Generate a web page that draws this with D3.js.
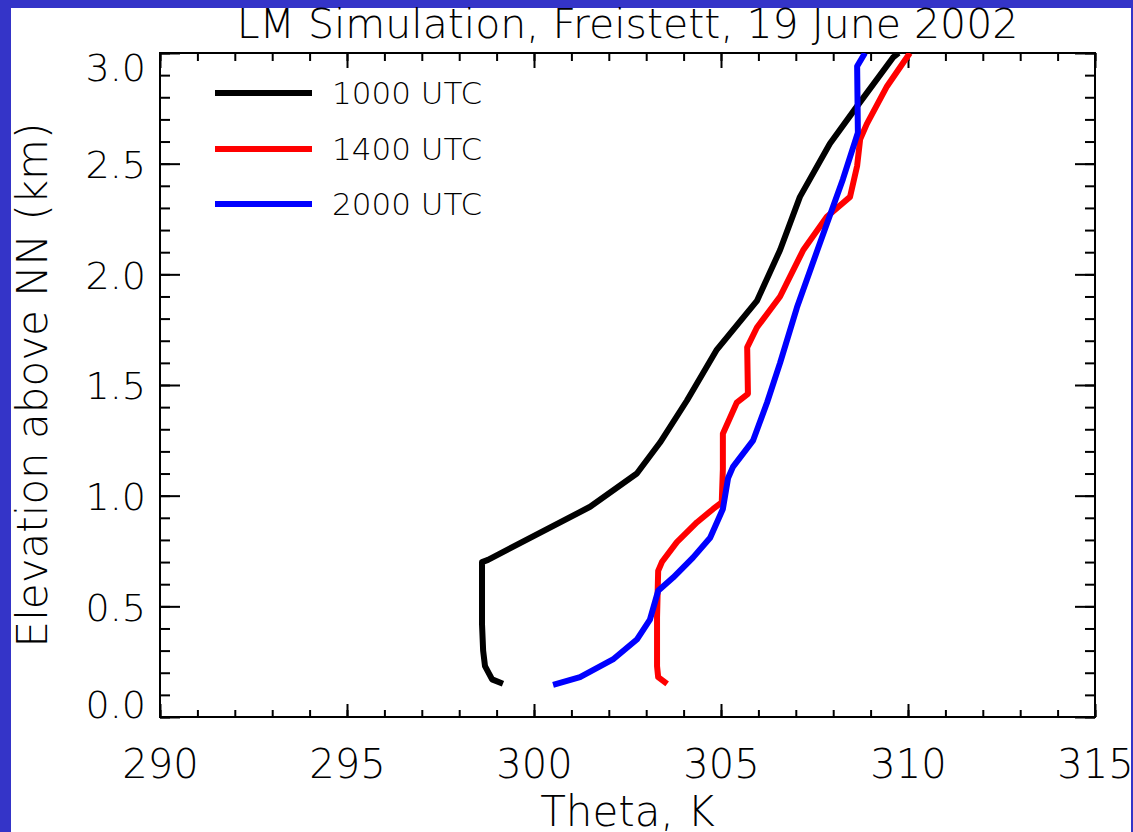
<!DOCTYPE html>
<html>
<head>
<meta charset="utf-8">
<script src="https://cdn.jsdelivr.net/npm/d3@7"></script>
<style>
body { margin: 0; background: #ffffff; }
svg { display: block; }
text { font-family: "DejaVu Sans", sans-serif; font-weight: 200; fill: #000; }
</style>
</head>
<body>
<svg width="1133" height="832"></svg>
<script>
// values (theta in K, elevation in km)
var series_names = ['1000 UTC', '1400 UTC', '2000 UTC'];
var series_colors = ['#000000', '#ff0000', '#0000ff'];

var theta_1000 = [299.17, 298.88, 298.69, 298.64, 298.61, 298.61, 298.77, 301.50, 302.75, 303.37, 304.09, 304.89, 305.96, 306.58, 307.11, 307.91, 308.64, 309.60, 309.75];
var elev_1000  = [0.15, 0.17, 0.23, 0.30, 0.42, 0.70, 0.71, 0.95, 1.10, 1.24, 1.43, 1.66, 1.88, 2.11, 2.35, 2.59, 2.76, 2.98, 3.0];

var theta_1400 = [303.56, 303.32, 303.29, 303.29, 303.32, 303.42, 303.82, 304.36, 304.79, 305.02, 305.05, 305.05, 305.42, 305.72, 305.70, 305.96, 306.58, 307.20, 307.83, 308.45, 308.64, 308.72, 308.90, 309.44, 310.05];
var elev_1400  = [0.15, 0.18, 0.23, 0.45, 0.66, 0.70, 0.79, 0.88, 0.94, 0.97, 1.12, 1.28, 1.42, 1.46, 1.67, 1.76, 1.90, 2.11, 2.26, 2.35, 2.49, 2.61, 2.68, 2.85, 3.0];

var theta_2000 = [300.51, 301.23, 302.11, 302.75, 303.10, 303.32, 303.72, 304.25, 304.71, 305.05, 305.19, 305.32, 305.86, 306.23, 306.58, 307.03, 307.60, 308.26, 308.66, 308.64, 308.85];
var elev_2000  = [0.145, 0.18, 0.26, 0.35, 0.44, 0.57, 0.63, 0.72, 0.81, 0.94, 1.08, 1.13, 1.25, 1.42, 1.60, 1.85, 2.12, 2.43, 2.64, 2.94, 3.0];

var x_major = [290, 295, 300, 305, 310, 315];
var x_minor = d3.range(290, 315.01, 1);
var y_major = [0.0, 0.5, 1.0, 1.5, 2.0, 2.5, 3.0];
var y_minor = d3.range(0, 3.001, 0.1);

var title_text = 'LM Simulation, Freistett, 19 June 2002';
var x_title = 'Theta, K';
var y_title = 'Elevation above NN (km)';

var series = [
    {name: series_names[0], color: series_colors[0], x: theta_1000, y: elev_1000},
    {name: series_names[1], color: series_colors[1], x: theta_1400, y: elev_1400},
    {name: series_names[2], color: series_colors[2], x: theta_2000, y: elev_2000}
];

var svg = d3.select('svg');
var W = 1133, H = 832;
var pLeft = 160, pRight = 1095, pTop = 53, pBottom = 717;

// white page with the blue frame round it
svg.append('rect').attr('x', 0).attr('y', 0).attr('width', W).attr('height', H).attr('fill', '#3434c8');
svg.append('rect').attr('x', 11).attr('y', 8).attr('width', 1120).attr('height', H - 8).attr('fill', '#ffffff');

var xScale = d3.scaleLinear().domain([290, 315]).range([pLeft, pRight]);
var yScale = d3.scaleLinear().domain([0, 3]).range([pBottom, pTop]);

// axes
function styleAxis(g) {
    g.select('.domain').remove();
    g.selectAll('line').attr('stroke', '#000').attr('stroke-width', 2);
}

var fmtX = d3.format('d');
var fmtY = d3.format('.1f');

// bottom
svg.append('g').attr('transform', 'translate(0,' + pBottom + ')')
    .call(d3.axisBottom(xScale).tickValues(x_minor).tickSize(-7).tickFormat(''))
    .call(styleAxis);
var gb = svg.append('g').attr('transform', 'translate(0,' + pBottom + ')')
    .call(d3.axisBottom(xScale).tickValues(x_major).tickSize(-13).tickFormat(fmtX))
    .call(styleAxis);
gb.selectAll('text').attr('y', 61).attr('dy', null).style('font-size', '40px');

// top
svg.append('g').attr('transform', 'translate(0,' + pTop + ')')
    .call(d3.axisTop(xScale).tickValues(x_minor).tickSize(-8).tickFormat(''))
    .call(styleAxis);
svg.append('g').attr('transform', 'translate(0,' + pTop + ')')
    .call(d3.axisTop(xScale).tickValues(x_major).tickSize(-15).tickFormat(''))
    .call(styleAxis);

// left
svg.append('g').attr('transform', 'translate(' + pLeft + ',0)')
    .call(d3.axisLeft(yScale).tickValues(y_minor).tickSize(-10).tickFormat(''))
    .call(styleAxis);
var gl = svg.append('g').attr('transform', 'translate(' + pLeft + ',0)')
    .call(d3.axisLeft(yScale).tickValues(y_major).tickSize(-20).tickPadding(14).tickFormat(fmtY))
    .call(styleAxis);
gl.selectAll('text').style('font-size', '38px').attr('dy', '0.36em');
// end labels sit inside the axis range
gl.selectAll('.tick').filter(function (d) { return d == 0; }).select('text').attr('y', -13);
gl.selectAll('.tick').filter(function (d) { return d == 3; }).select('text').attr('y', 14);

// right
svg.append('g').attr('transform', 'translate(' + pRight + ',0)')
    .call(d3.axisRight(yScale).tickValues(y_minor).tickSize(-10).tickFormat(''))
    .call(styleAxis);
svg.append('g').attr('transform', 'translate(' + pRight + ',0)')
    .call(d3.axisRight(yScale).tickValues(y_major).tickSize(-20).tickFormat(''))
    .call(styleAxis);

// frame
svg.append('rect')
    .attr('x', pLeft).attr('y', pTop)
    .attr('width', pRight - pLeft).attr('height', pBottom - pTop)
    .attr('fill', 'none').attr('stroke', '#000').attr('stroke-width', 2);

// curves
svg.append('clipPath').attr('id', 'plotclip')
    .append('rect').attr('x', pLeft).attr('y', pTop).attr('width', pRight - pLeft).attr('height', pBottom - pTop);

var line = d3.line()
    .x(function (d) { return xScale(d[0]); })
    .y(function (d) { return yScale(d[1]); });

svg.append('g').attr('clip-path', 'url(#plotclip)')
    .selectAll('path')
    .data(series)
    .enter()
    .append('path')
    .attr('d', function (s) { return line(d3.zip(s.x, s.y)); })
    .attr('fill', 'none')
    .attr('stroke', function (s) { return s.color; })
    .attr('stroke-width', 6)
    .attr('stroke-linejoin', 'round');

// legend
var legend = svg.append('g');
var legendY = [93, 149, 204];
series.forEach(function (s, i) {
    legend.append('line')
        .attr('x1', 215).attr('x2', 312)
        .attr('y1', legendY[i]).attr('y2', legendY[i])
        .attr('stroke', s.color).attr('stroke-width', 6);
    legend.append('text')
        .attr('x', 332).attr('y', legendY[i]).attr('dy', '0.36em')
        .style('font-size', '31px')
        .text(s.name);
});

// titles
svg.append('text')
    .attr('x', (pLeft + pRight) / 2).attr('y', 38)
    .attr('text-anchor', 'middle')
    .style('font-size', '41px')
    .text(title_text);

svg.append('text')
    .attr('x', (pLeft + pRight) / 2).attr('y', 826)
    .attr('text-anchor', 'middle')
    .style('font-size', '42px')
    .text(x_title);

svg.append('text')
    .attr('text-anchor', 'middle')
    .attr('transform', 'translate(47,' + (pTop + pBottom) / 2 + ')rotate(-90)')
    .style('font-size', '42px')
    .text(y_title);
</script>
</body>
</html>
